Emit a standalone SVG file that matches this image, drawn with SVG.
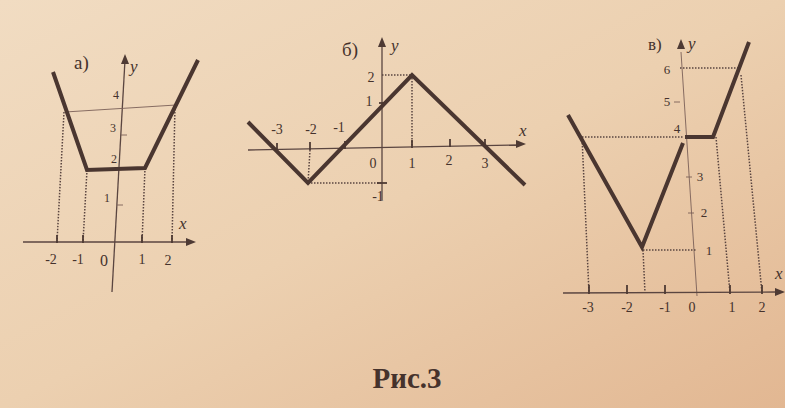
<svg xmlns="http://www.w3.org/2000/svg" width="785" height="408" viewBox="0 0 785 408">
<defs>
<linearGradient id="bg" x1="0" y1="0" x2="1" y2="1">
<stop offset="0" stop-color="#f1dcc2"/>
<stop offset="0.5" stop-color="#ecd0b0"/>
<stop offset="1" stop-color="#e2b792"/>
</linearGradient>
<style>
.ax{stroke:#5a4540;stroke-width:1.3;fill:none}
.fa{stroke:#7a6058;stroke-width:0.9;fill:none}
.cv{stroke:#4a3630;stroke-width:4;fill:none;stroke-linejoin:miter;stroke-linecap:butt}
.dt{stroke:#5a4540;stroke-width:1.5;stroke-dasharray:1.5 1.5;fill:none}
.tk{stroke:#4e3a34;stroke-width:1.8;fill:none}
.ah{fill:#4e3a34}
text{font-family:"Liberation Serif","DejaVu Serif",serif;fill:#45322c}
.n{font-size:14px;text-anchor:middle}
.v{font-size:17px;font-style:italic}
.lb{font-size:19px}
</style>
</defs>
<rect width="785" height="408" fill="url(#bg)"/>

<g id="graph-a">
<line class="ax" x1="125" y1="60" x2="112" y2="292"/>
<polygon class="ah" points="125,54 121,64 129,64"/>
<line class="ax" x1="23" y1="242" x2="188" y2="242"/>
<polygon class="ah" points="196,242 186,238 186,246"/>
<line class="fa" x1="65" y1="112" x2="176" y2="105"/>
<line class="dt" x1="64" y1="112" x2="57" y2="242"/>
<line class="dt" x1="87" y1="170" x2="83" y2="242"/>
<line class="dt" x1="145" y1="168" x2="142" y2="242"/>
<line class="dt" x1="175" y1="106" x2="172" y2="242"/>
<line class="tk" x1="57" y1="235" x2="57" y2="243"/>
<line class="tk" x1="83" y1="235" x2="83" y2="243"/>
<line class="tk" x1="142" y1="235" x2="142" y2="243"/>
<line class="tk" x1="172" y1="235" x2="172" y2="243"/>
<line class="fa" x1="121" y1="135" x2="127" y2="135"/>
<line class="fa" x1="117" y1="205" x2="123" y2="205"/>
<polyline class="cv" points="53,72 87,170 145,168 198,60"/>
<text class="lb" x="74" y="69">а)</text>
<text class="v" x="130" y="72">y</text>
<text class="n" x="116" y="99" style="font-size:12px">4</text>
<text class="n" x="113" y="132" style="font-size:12px">3</text>
<text class="n" x="114" y="163" style="font-size:12px">2</text>
<text class="n" x="107" y="202" style="font-size:12px">1</text>
<text class="v" x="179" y="229">x</text>
<text class="n" x="51" y="264">-2</text>
<text class="n" x="78" y="264">-1</text>
<text class="n" x="104" y="266" style="font-size:16px">0</text>
<text class="n" x="142" y="264">1</text>
<text class="n" x="168" y="265">2</text>
</g>

<g id="graph-b">
<line class="ax" x1="382" y1="44" x2="382" y2="200"/>
<polygon class="ah" points="382,37 378,47 386,47"/>
<line class="ax" x1="248" y1="150" x2="518" y2="145"/>
<polygon class="ah" points="526,144 516,140 516,148"/>
<line class="dt" x1="382" y1="75" x2="412" y2="75"/>
<line class="dt" x1="412" y1="75" x2="412" y2="147"/>
<line class="dt" x1="308" y1="183" x2="382" y2="183"/>
<line class="dt" x1="310" y1="150" x2="308" y2="183"/>
<line class="tk" x1="277" y1="143" x2="277" y2="151"/>
<line class="tk" x1="310" y1="142" x2="310" y2="150"/>
<line class="tk" x1="345" y1="141" x2="345" y2="149"/>
<line class="tk" x1="412" y1="140" x2="412" y2="148"/>
<line class="tk" x1="450" y1="139" x2="450" y2="147"/>
<line class="tk" x1="485" y1="139" x2="485" y2="147"/>
<line class="tk" x1="379" y1="103" x2="385" y2="103"/>
<line class="tk" x1="377" y1="183" x2="387" y2="183"/>
<polyline class="cv" points="248,122 308,183 412,75 525,185"/>
<text class="lb" x="342" y="56">б)</text>
<text class="v" x="391" y="51">y</text>
<text class="n" x="371" y="82">2</text>
<text class="n" x="369" y="106">1</text>
<text class="n" x="277" y="134">-3</text>
<text class="n" x="311" y="134">-2</text>
<text class="n" x="339" y="132">-1</text>
<text class="n" x="373" y="168">0</text>
<text class="n" x="412" y="168">1</text>
<text class="n" x="449" y="165">2</text>
<text class="n" x="485" y="168">3</text>
<text class="v" x="519" y="136">x</text>
<text class="n" x="378" y="201">-1</text>
</g>

<g id="graph-c">
<line class="fa" x1="681" y1="52" x2="697" y2="296"/>
<polygon class="ah" points="681,39 677,49 685,49"/>
<line class="ax" x1="563" y1="293" x2="777" y2="292"/>
<polygon class="ah" points="785,292 775,288 775,296"/>
<line class="dt" x1="582" y1="137" x2="683" y2="137"/>
<line class="dt" x1="582" y1="137" x2="589" y2="293"/>
<line class="dt" x1="643" y1="250" x2="697" y2="250"/>
<line class="dt" x1="643" y1="250" x2="645" y2="293"/>
<line class="dt" x1="716" y1="137" x2="730" y2="293"/>
<line class="dt" x1="680" y1="68" x2="740" y2="68"/>
<line class="dt" x1="741" y1="75" x2="762" y2="293"/>
<line class="tk" x1="589" y1="285" x2="589" y2="294"/>
<line class="tk" x1="627" y1="285" x2="627" y2="294"/>
<line class="tk" x1="665" y1="285" x2="665" y2="294"/>
<line class="tk" x1="730" y1="285" x2="730" y2="294"/>
<line class="tk" x1="762" y1="285" x2="762" y2="294"/>
<line class="fa" x1="674" y1="102" x2="680" y2="102"/>
<line class="fa" x1="686" y1="177" x2="692" y2="177"/>
<line class="fa" x1="688" y1="213" x2="694" y2="213"/>
<polyline class="cv" points="568,115 642,247 683,143"/>
<polyline class="cv" points="685,137 713,137 749,42"/>
<text class="lb" x="648" y="50" style="font-size:17px">в)</text>
<text class="v" x="688" y="49">y</text>
<text class="n" x="667" y="74" style="font-size:13px">6</text>
<text class="n" x="667" y="106" style="font-size:13px">5</text>
<text class="n" x="677" y="133" style="font-size:13px">4</text>
<text class="n" x="700" y="181" style="font-size:13px">3</text>
<text class="n" x="704" y="217" style="font-size:13px">2</text>
<text class="n" x="709" y="255" style="font-size:13px">1</text>
<text class="v" x="775" y="279">x</text>
<text class="n" x="588" y="312">-3</text>
<text class="n" x="627" y="312">-2</text>
<text class="n" x="665" y="312">-1</text>
<text class="n" x="692" y="312">0</text>
<text class="n" x="732" y="312">1</text>
<text class="n" x="762" y="312">2</text>
</g>

<text x="407" y="388" style="font-size:29px;font-weight:bold;text-anchor:middle">Рис.3</text>
</svg>
